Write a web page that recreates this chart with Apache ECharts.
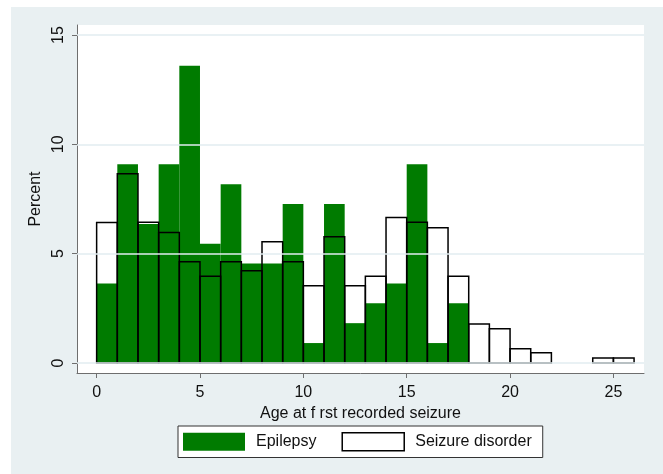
<!DOCTYPE html>
<html>
<head>
<meta charset="utf-8">
<script src="https://cdn.jsdelivr.net/npm/echarts@6/dist/echarts.min.js"></script>
<style>
  html, body { margin: 0; padding: 0; background: #fff; }
  #bg { position: absolute; left: 11px; top: 7px; width: 652px; height: 467px; background: #e9f0f2; }
  #main { position: absolute; left: 0; top: 0; width: 663px; height: 474px; }
</style>
</head>
<body>
<div id="bg"></div>
<div id="main"></div>
<script>
// bin start (age, years); each bin is one year wide
var binStarts = [0, 1, 2, 3, 4, 5, 6, 7, 8, 9, 10, 11, 12, 13, 14, 15, 16, 17, 18, 19, 20, 21, 22, 23, 24, 25];

// percent per bin
var epilepsy = [3.64, 9.09, 6.36, 9.09, 13.6, 5.45, 8.18, 4.55, 4.55, 7.27, 0.91, 7.27, 1.82, 2.73, 3.64, 9.09, 0.91, 2.73];
var seizureDisorder = [6.42, 8.66, 6.44, 5.97, 4.63, 3.97, 4.63, 4.22, 5.54, 4.63, 3.53, 5.77, 3.53, 3.97, 6.65, 6.44, 6.18, 3.97, 1.78, 1.57, 0.65, 0.47, 0, 0, 0.23, 0.23];

var xTicks = [0, 5, 10, 15, 20, 25];
var yTicks = [0, 5, 10, 15];

var font = "'Liberation Sans', Arial, sans-serif";
var green = '#007b00';

function toData(vals) {
  return vals.map(function (v, i) { return [binStarts[i], v]; });
}

function barShape(api) {
  var x0 = api.value(0), v = api.value(1);
  var p0 = api.coord([x0, 0]);
  var p1 = api.coord([x0 + 1, v]);
  return { x: p0[0], y: p1[1], width: p1[0] - p0[0], height: p0[1] - p1[1] };
}

var chart = echarts.init(document.getElementById('main'));

chart.setOption({
  animation: false,
  textStyle: { fontFamily: font },
  grid: {
    left: 77, right: 19, top: 25, bottom: 101,
    show: true, backgroundColor: '#fff', borderWidth: 0
  },
  legend: {
    left: 178, top: 426,
    padding: [6, 11, 6, 5],
    itemWidth: 62, itemHeight: 18, itemGap: 25,
    backgroundColor: '#fff', borderColor: '#333', borderWidth: 1,
    textStyle: { fontSize: 16, color: '#111', fontFamily: font, padding: [0, 0, 0, 6] },
    data: [
      { name: 'Epilepsy', icon: 'rect', itemStyle: { color: green, borderWidth: 0 } },
      { name: 'Seizure disorder', icon: 'rect', itemStyle: { color: '#fff', borderColor: '#000', borderWidth: 1.5 } }
    ]
  },
  xAxis: {
    type: 'value',
    min: -0.95, max: 26.48,
    name: 'Age at f rst recorded seizure',
    nameLocation: 'middle', nameGap: 26,
    nameTextStyle: { fontSize: 16, color: '#111', fontFamily: font },
    axisLine: { onZero: false, lineStyle: { color: '#6e6e6e', width: 1 } },
    axisTick: { customValues: xTicks, length: 5, lineStyle: { color: '#6e6e6e' } },
    axisLabel: { customValues: xTicks, fontSize: 16, color: '#111', margin: 12 },
    splitLine: { show: false }
  },
  yAxis: {
    type: 'value',
    min: -0.46, max: 15.46,
    name: 'Percent',
    nameLocation: 'middle', nameGap: 28,
    nameTextStyle: { fontSize: 16, color: '#111', fontFamily: font },
    axisLine: { onZero: false, lineStyle: { color: '#6e6e6e', width: 1 } },
    axisTick: { customValues: yTicks, length: 5, lineStyle: { color: '#6e6e6e' } },
    axisLabel: { customValues: yTicks, fontSize: 16, color: '#111', rotate: 90, margin: 10 },
    splitLine: { show: false }
  },
  series: [
    {
      name: '_grid',
      type: 'line',
      data: [],
      z: 1,
      markLine: {
        silent: true,
        symbol: 'none',
        label: { show: false },
        lineStyle: { color: '#e2ecf0', width: 1.5, type: 'solid' },
        data: yTicks.map(function (v) { return { yAxis: v }; })
      }
    },
    {
      name: 'Epilepsy',
      type: 'custom',
      z: 2,
      itemStyle: { color: green },
      encode: { x: 0, y: 1 },
      data: toData(epilepsy),
      renderItem: function (params, api) {
        if (api.value(1) <= 0) return null;
        return { type: 'rect', shape: barShape(api), style: { fill: green } };
      }
    },
    {
      name: 'Seizure disorder',
      type: 'custom',
      z: 3,
      itemStyle: { color: '#fff', borderColor: '#000' },
      encode: { x: 0, y: 1 },
      data: toData(seizureDisorder),
      renderItem: function (params, api) {
        if (api.value(1) <= 0) return null;
        return { type: 'rect', shape: barShape(api), style: { fill: 'none', stroke: '#000', lineWidth: 1.5 } };
      }
    }
  ]
});
</script>
</body>
</html>
